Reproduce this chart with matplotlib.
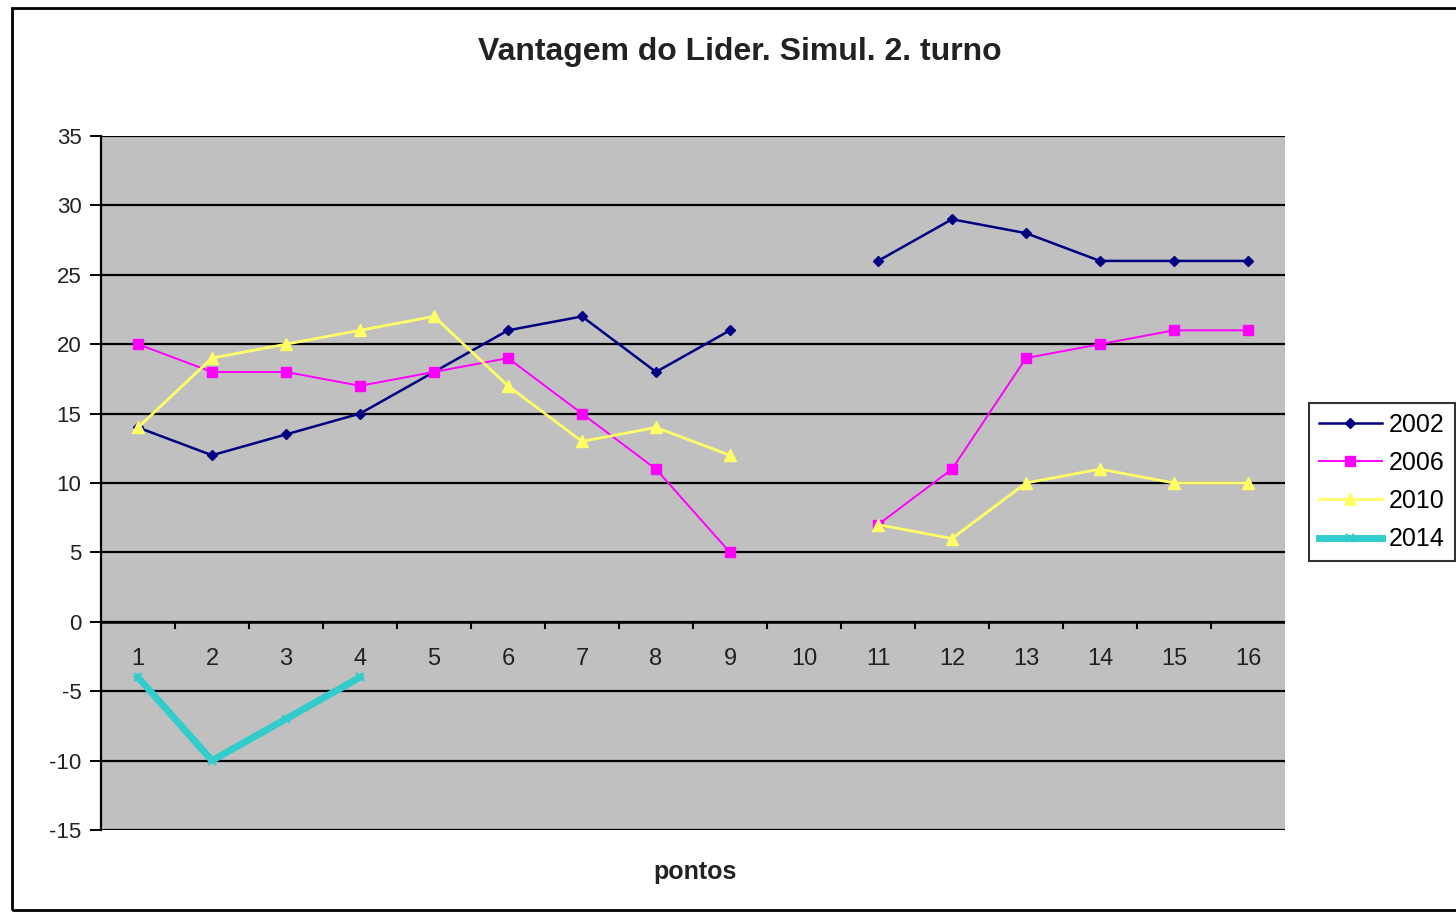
import numpy as np
import matplotlib
matplotlib.use("Agg")
import matplotlib.pyplot as plt
from matplotlib.patches import Rectangle

plt.rcParams['font.family'] = ['Liberation Sans', 'DejaVu Sans']

points = list(range(1, 17))
nan = np.nan
s2002 = [14, 12, 13.5, 15, 18, 21, 22, 18, 21, nan, 26, 29, 28, 26, 26, 26]
s2006 = [20, 18, 18, 17, 18, 19, 15, 11, 5, nan, 7, 11, 19, 20, 21, 21]
s2010 = [14, 19, 20, 21, 22, 17, 13, 14, 12, nan, 7, 6, 10, 11, 10, 10]
s2014 = [-4, -10, -7, -4] + [nan] * 12
yticks = list(range(-15, 40, 5))
title = "Vantagem do Lider. Simul. 2. turno"
xlabel = "pontos"

fig = plt.figure(figsize=(14.56, 9.14), dpi=100)
W, H = 1456, 914
ax = fig.add_axes([101 / W, 1 - 830 / H, (1285 - 101) / W, (830 - 136) / H])
ax.set_facecolor('#C0C0C0')

ax.set_xlim(0.5, 16.5)
ax.set_ylim(-15, 35)
ax.set_yticks(yticks)
ax.set_yticklabels([str(v) for v in yticks], fontsize=16, color='#222222')
for v in yticks:
    ax.axhline(v, color='black', lw=1.6, zorder=1)

x = np.array(points)
ax.plot(x, s2002, color='#000080', lw=1.8, marker='D', ms=5.5, label='2002', zorder=3)
ax.plot(x, s2006, color='#FF00FF', lw=1.4, marker='s', ms=7, label='2006', zorder=3)
ax.plot(x, s2010, color='#FFFF66', lw=2.0, marker='^', ms=9, label='2010', zorder=3)
ax.plot(x, s2014, color='#33CCCC', lw=5, marker='x', ms=6, mew=1.5, label='2014', zorder=3)

# x axis at y=0 with category ticks between points
ax.axhline(0, color='black', lw=1.8, zorder=2)
for b in np.arange(1.5, 16.5, 1.0):
    ax.plot([b, b], [0, -0.45], color='black', lw=1.5, zorder=2, clip_on=False)
ax.set_xticks([])
for p in points:
    ax.text(p, -2.65, str(p), ha='center', va='center', fontsize=17, color='#222222')

for side in ['top', 'right', 'bottom']:
    ax.spines[side].set_visible(False)
ax.spines['left'].set_linewidth(1.6)
ax.tick_params(axis='y', direction='out', length=8, width=1.4, pad=6)

fig.text(740 / W, 1 - 52 / H, title, ha='center', va='center', fontsize=23, fontweight='bold', color='#222222')
fig.text(695 / W, 1 - 872 / H, xlabel, ha='center', va='center', fontsize=18, fontweight='bold', color='#222222')

leg = fig.legend(loc='center left', bbox_to_anchor=(1309 / W, 1 - 482 / H), fontsize=18,
                 frameon=True, fancybox=False, edgecolor='black', handlelength=2.5,
                 handletextpad=0.3, borderaxespad=0, borderpad=0.4, labelspacing=0.57)
leg.get_frame().set_linewidth(1.5)

fig.patches.append(Rectangle((12 / W, 1 - 910 / H), 1.5, (910 - 8) / H, transform=fig.transFigure,
                             fill=False, edgecolor='black', lw=2))

fig.savefig('out.png', dpi=100)
